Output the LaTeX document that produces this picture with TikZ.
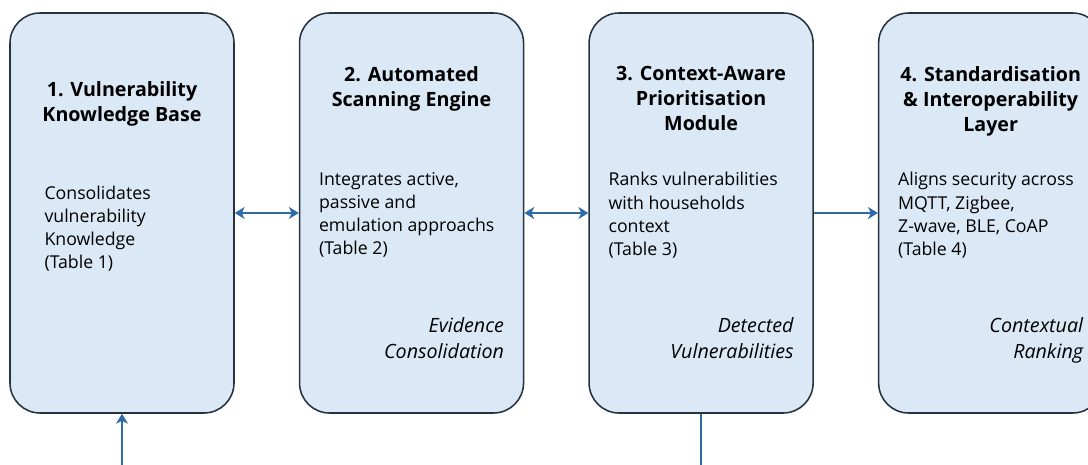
\documentclass[tikz,border=0pt]{standalone}
\usepackage{fontspec}
\setmainfont{Open Sans}
\usetikzlibrary{arrows.meta, positioning}
\usepackage{xcolor}
\definecolor{stageFill}{HTML}{DBE8F5}
\definecolor{stageEdge}{HTML}{24333F}
\definecolor{flowBlue}{HTML}{2E6BA8}
\tikzset{
    stageBlock/.style={
        draw=stageEdge, fill=stageFill, line width=1.1pt, rounded corners=0.75cm, minimum width=5.6cm, minimum height=10cm, inner sep=0pt
    },
    stageTitle/.style={
        anchor=north, align=center, font=\fontsize{14}{17.8}\selectfont\bfseries, inner sep=0pt
    },
    stageBody/.style={
        anchor=north west, align=left, font=\fontsize{12.6}{16.4}\selectfont, inner sep=0pt
    },
    stageOutput/.style={
        anchor=north east, align=right, font=\fontsize{14}{18.5}\selectfont\itshape, inner sep=0pt
    },
    flowArrow/.style={
        -{Stealth[length=7pt, width=8.5pt, inset=2pt]}, line width=1.4pt, draw=flowBlue
    },
    flowBiArrow/.style={
        flowArrow, {Stealth[length=7pt, width=8.5pt, inset=2pt]}-{Stealth[length=7pt, width=8.5pt, inset=2pt]}
    },
    flowLine/.style={
        line width=1.4pt, draw=flowBlue
    }
}

\begin{document}
\begin{tikzpicture}
    \useasboundingbox (0,0) rectangle (27.2,-11.6);
    \clip (0,0) rectangle (27.2,-11.6);

    % ── STAGE BLOCKS
    \node[stageBlock] (kbBox) at (3.05,-5.325) {};
    \node[stageBlock, right=1.6cm of kbBox] (scanBox) {};
    \node[stageBlock, right=1.6cm of scanBox] (prioBox) {};
    \node[stageBlock, right=1.6cm of prioBox] (stdBox) {};

    % ── TITLES
    \node[stageTitle] (kbTitle) at ([yshift=-1.72cm]kbBox.north) {1. Vulnerability\\Knowledge Base};
    \node[stageTitle] (scanTitle) at ([yshift=-1.35cm]scanBox.north) {2. Automated\\Scanning Engine};
    \node[stageTitle] (prioTitle) at ([yshift=-1.35cm]prioBox.north) {3. Context-Aware\\Prioritisation\\Module};
    \node[stageTitle] (stdTitle) at ([yshift=-1.35cm]stdBox.north) {4. Standardisation\\\& Interoperability\\Layer};

    % ── DESCRIPTIONS
    \node[stageBody] (kbText) at ([xshift=0.875cm, yshift=-4.33cm]kbBox.north west) {Consolidates\\vulnerability\\Knowledge\\(Table 1)};
    \node[stageBody] (scanText) at ([xshift=0.5cm, yshift=-4.0cm]scanBox.north west) {Integrates active,\\passive and\\emulation approachs\\(Table 2)};
    \node[stageBody] (prioText) at ([xshift=0.5cm, yshift=-4.0cm]prioBox.north west) {Ranks vulnerabilities\\with households\\context\\(Table 3)};
    \node[stageBody] (stdText) at ([xshift=0.5cm, yshift=-4.0cm]stdBox.north west) {Aligns security across\\MQTT, Zigbee,\\Z-wave, BLE, CoAP\\(Table 4)};

    % ── STAGE OUTPUTS
    \node[stageOutput] (scanOut) at ([xshift=-0.5cm, yshift=-7.63cm]scanBox.north east) {Evidence\\Consolidation};
    \node[stageOutput] (prioOut) at ([xshift=-0.5cm, yshift=-7.63cm]prioBox.north east) {Detected\\Vulnerabilities};
    \node[stageOutput] (stdOut) at ([xshift=-0.5cm, yshift=-7.63cm]stdBox.north east) {Contextual\\Ranking};

    % ── CONNECTIONS
    \draw[flowBiArrow] (kbBox.east) -- (scanBox.west);
    \draw[flowBiArrow] (scanBox.east) -- (prioBox.west);
    \draw[flowArrow] (prioBox.east) -- (stdBox.west);

    \coordinate (kbFeed) at ([yshift=-1.5cm]kbBox.south);
    \coordinate (prioExit) at ([yshift=-1.5cm]prioBox.south);
    \draw[flowArrow] (kbFeed) -- (kbBox.south);
    \draw[flowLine] (prioBox.south) -- (prioExit);
\end{tikzpicture}
\end{document}
